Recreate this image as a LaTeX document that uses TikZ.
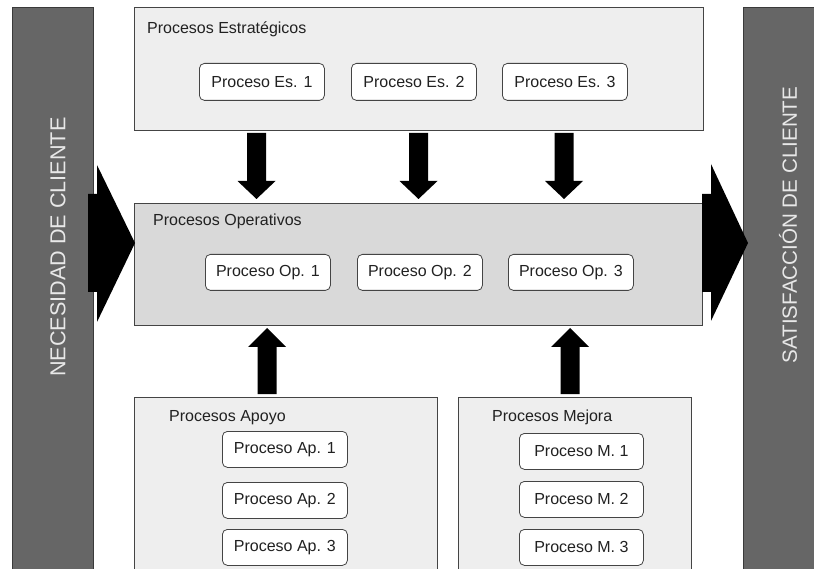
\documentclass[tikz,border=0pt]{standalone}
\usepackage{fontspec}
\setmainfont{Liberation Sans}
\usetikzlibrary{positioning}

\definecolor{barfill}{HTML}{666666}
\definecolor{barline}{HTML}{3A3A3A}
\definecolor{lightpanel}{HTML}{EEEEEE}
\definecolor{midpanel}{HTML}{D9D9D9}
\definecolor{panelline}{HTML}{444444}
\definecolor{bartext}{HTML}{E8E8E8}

\tikzset{
  sidebar/.style={draw=barline, fill=barfill, line width=1pt, anchor=north west, inner sep=0pt},
  panel/.style={draw=panelline, line width=1pt, anchor=north west, inner sep=0pt},
  procbox/.style={draw=panelline, fill=white, rounded corners=5pt, line width=0.8pt,
    minimum width=125pt, minimum height=37pt, inner sep=0pt, anchor=north west,
    font=\fontsize{16}{19}\selectfont, text=black!87},
  paneltitle/.style={anchor=base west, inner sep=0pt, font=\fontsize{16}{19}\selectfont, text=black!87},
  sidetext/.style={rotate=90, inner sep=0pt, text=bartext},
  blockarrow/.style={fill=black, draw=none}
}

% vertical block arrow pointing down, centred on #1
\newcommand{\blockdown}[1]{%
  \fill[blockarrow] (#1-9.5,133) -- (#1+9.5,133) -- (#1+9.5,181) -- (#1+19,181)
    -- (#1,199) -- (#1-19,181) -- (#1-9.5,181) -- cycle;}
% vertical block arrow pointing up, centred on #1
\newcommand{\blockup}[1]{%
  \fill[blockarrow] (#1-9.5,394) -- (#1+9.5,394) -- (#1+9.5,347) -- (#1+19,347)
    -- (#1,328) -- (#1-19,347) -- (#1-9.5,347) -- cycle;}

\begin{document}
\begin{tikzpicture}[x=1pt,y=-1pt]
\useasboundingbox (0,0) rectangle (814,569);
\clip (0,0) rectangle (814,569);

% side bars
\node[sidebar, minimum width=81pt, minimum height=600pt] (need) at (12,7) {};
\node[sidebar, minimum width=90pt, minimum height=600pt] (sat) at (743,7) {};
\node[sidetext, font=\fontsize{21.6}{24}\selectfont] (needtxt) at (58,247) {NECESIDAD DE CLIENTE};
\node[sidetext, font=\fontsize{20.6}{24}\selectfont] (sattxt) at (788,225) {SATISFACCIÓN DE CLIENTE};

% process panels
\node[panel, fill=lightpanel, minimum width=569pt, minimum height=123pt] (estr) at (134,7) {};
\node[panel, fill=midpanel, minimum width=568pt, minimum height=122pt] (oper) at (134,203) {};
\node[panel, fill=lightpanel, minimum width=303pt, minimum height=190pt] (apoyo) at (134,397) {};
\node[panel, fill=lightpanel, minimum width=233pt, minimum height=190pt] (mejora) at (458,397) {};

% panel titles
\node[paneltitle] (estrT) at (147,33.5) {Procesos Estratégicos};
\node[paneltitle] (operT) at (153,226) {Procesos Operativos};
\node[paneltitle] (apoyoT) at (169,421) {Procesos Apoyo};
\node[paneltitle] (mejoraT) at (492,421) {Procesos Mejora};

% strategic processes
\node[procbox] (es1) at (199,63) {Proceso Es. 1};
\node[procbox] (es2) at (351,63) {Proceso Es. 2};
\node[procbox] (es3) at (502,63) {Proceso Es. 3};

% operative processes
\node[procbox, minimum height=36pt] (op1) at (205,254) {Proceso Op. 1};
\node[procbox, minimum height=36pt] (op2) at (357,254) {Proceso Op. 2};
\node[procbox, minimum height=36pt] (op3) at (508,254) {Proceso Op. 3};

% support processes
\node[procbox, minimum height=36pt] (ap1) at (222,431) {Proceso Ap. 1};
\node[procbox, minimum height=36pt] (ap2) at (222,482) {Proceso Ap. 2};
\node[procbox, minimum height=36pt] (ap3) at (222,529) {Proceso Ap. 3};

% improvement processes
\node[procbox, minimum width=124pt, minimum height=36pt] (m1) at (519,433) {Proceso M. 1};
\node[procbox, minimum width=124pt, minimum height=36pt] (m2) at (519,481) {Proceso M. 2};
\node[procbox, minimum width=124pt, minimum height=36pt] (m3) at (519,529) {Proceso M. 3};

% strategic -> operative
\blockdown{256.5}
\blockdown{418.5}
\blockdown{564}
% support / improvement -> operative
\blockup{267}
\blockup{570}

% customer need -> operative -> customer satisfaction
\fill[blockarrow] (88,194) -- (97,194) -- (97,165) -- (135,243) -- (97,322) -- (97,292) -- (88,292) -- cycle;
\fill[blockarrow] (702,194) -- (711,194) -- (711,164) -- (748,243) -- (711,321) -- (711,292) -- (702,292) -- cycle;
\end{tikzpicture}
\end{document}
